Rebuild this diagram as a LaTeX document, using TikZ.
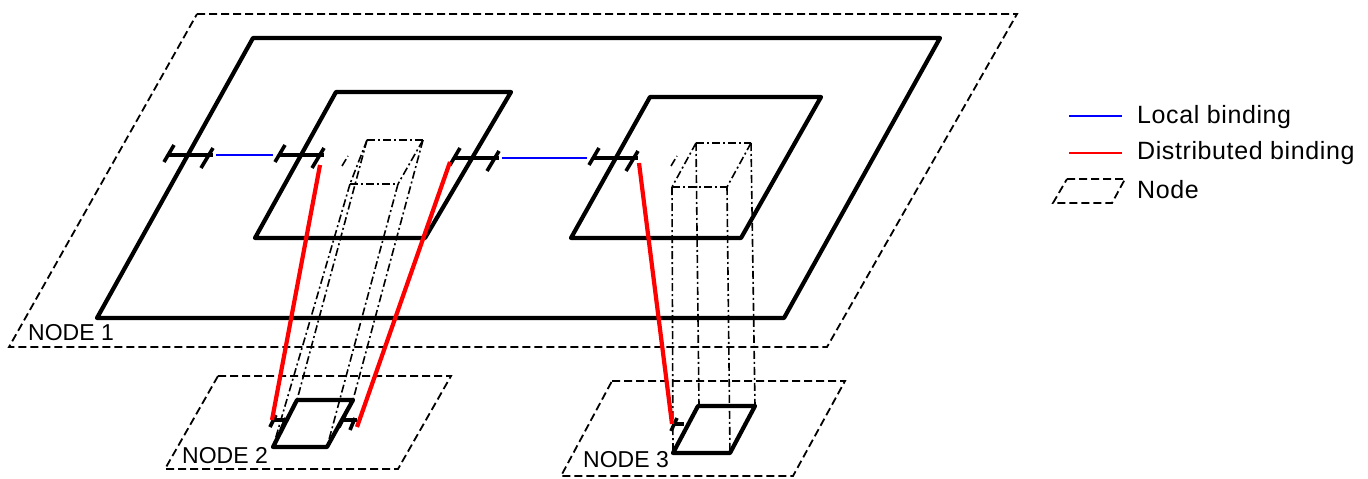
\documentclass[tikz,border=0pt]{standalone}
\usepackage{fontspec}
\setmainfont{Liberation Sans}
\newfontfamily\legendfont[LetterSpace=2.4]{Liberation Sans}
\usepackage{xcolor}
\usetikzlibrary{positioning}
\begin{document}
\begin{tikzpicture}[
    x=1pt, y=-1pt,
    plane/.style={draw=black, line width=4.2pt, line join=round},
    hostnode/.style={draw=black, line width=1.8pt, dash pattern=on 8pt off 4pt},
    projection/.style={draw=black, line width=1.6pt, dash pattern=on 8pt off 3pt on 2pt off 3pt},
    portbar/.style={draw=black, line width=3.6pt},
    localbind/.style={draw=blue, line width=2.2pt},
    distbind/.style={draw=red, line width=4.2pt},
    legendline/.style={line width=2.2pt},
    label/.style={anchor=base west, inner sep=0pt, font=\fontsize{23}{27}\selectfont},
    legendtext/.style={anchor=base west, inner sep=0pt, font=\legendfont\fontsize{25}{30}\selectfont}
  ]
  \useasboundingbox (0,0) rectangle (1368,479);

  % Hosts
  \draw[hostnode] (197,14) -- (1017,14) -- (827,347) -- (9,347) -- cycle;
  \draw[hostnode] (218,376) -- (451,376) -- (398,469) -- (165,469) -- cycle;
  \draw[hostnode] (612,381) -- (845,381) -- (793,476) -- (561,476) -- cycle;

  % Projection, left component
  \draw[projection] (367,140) -- (423,140) (350,184) -- (398,184);
  \draw[projection] (367,140) -- (350,184) (423,140) -- (398,184);
  \draw[projection] (342,166) -- (348,156);
  \draw[projection] (350,184) -- (273,447);
  \draw[projection] (367,140) -- (297,400);
  \draw[projection] (398,184) -- (327,447);
  \draw[projection] (423,140) -- (353,400);

  % Projection, right component
  \draw[projection] (696,143) -- (751,143) (672,187) -- (727,187);
  \draw[projection] (696,143) -- (672,187) (751,143) -- (727,187);
  \draw[projection] (671,166) -- (677,156);
  \foreach \xa/\ya/\xb/\yb in {672/187/673/453, 696/143/699/406, 727/187/730/453, 751/143/755/406} {
    \draw[projection] (\xa,\ya) -- (\xb,\yb);
  }

  % Components
  \draw[plane] (253,38) -- (940,38) -- (784,318) -- (97,318) -- cycle;
  \draw[plane] (336,92) -- (511,92) -- (425,238) -- (255,238) -- cycle;
  \draw[plane] (650,97) -- (821,97) -- (741,238) -- (571,238) -- cycle;
  \draw[plane] (297,400) -- (353,400) -- (327,447) -- (273,447) -- cycle;
  \draw[plane] (698,406) -- (755,406) -- (730,453) -- (673,453) -- cycle;

  % Ports
  \foreach \name/\x/\y in {pa/168/155, pb/279/155, pc/454/158, pd/593/158} {
    \coordinate (\name w) at (\x,\y);
    \coordinate (\name e) at (\x+45,\y);
    \draw[portbar] (\name w) -- (\name e);
    \draw[portbar] (\x+6,\y-10) -- (\x-4,\y+7);
    \draw[portbar] (\x+45,\y-7) -- (\x+33,\y+13);
  }
  \foreach \name/\x/\y in {qa/272/420, qb/341/420} {
    \coordinate (\name) at (\x,\y);
    \draw[portbar] (\name) -- (\x+16,\y);
    \draw[portbar] (\x+4,\y-5) -- (\x-2,\y+7);
    \draw[portbar] (\x+14,\y-2) -- (\x+9,\y+10);
  }
  \coordinate (qc) at (672,424);
  \draw[portbar] (qc) -- (684,424);
  \draw[portbar] (677,418) -- (671,431);

  % Bindings
  \draw[localbind, shorten <=3pt, shorten >=6pt] (pae) -- (pbw);
  \draw[localbind, shorten <=3pt, shorten >=6pt] (pce) -- (pdw);
  \draw[distbind] (320,165) -- (qa);
  \draw[distbind] (450,162) -- (357,427);
  \draw[distbind] (639,163) -- (qc);

  % Host labels
  \node[label] (node1) at (28,340) {NODE 1};
  \node[label] (node2) at (182,463) {NODE 2};
  \node[label] (node3) at (583,467) {NODE 3};

  % Legend
  \node[legendtext] (leglocal) at (1137,123) {Local binding};
  \node[legendtext] (legdist) at (1137,159) {Distributed binding};
  \node[legendtext] (legnode) at (1137,198) {Node};
  \coordinate (la) at (1069,116);
  \coordinate (lb) at (1069,153);
  \draw[legendline, blue] (la) -- ++(53,0);
  \draw[legendline, red] (lb) -- ++(53,0);
  \draw[hostnode] (1067,179) -- (1125,179) -- (1112,203) -- (1053,203) -- cycle;
\end{tikzpicture}
\end{document}
